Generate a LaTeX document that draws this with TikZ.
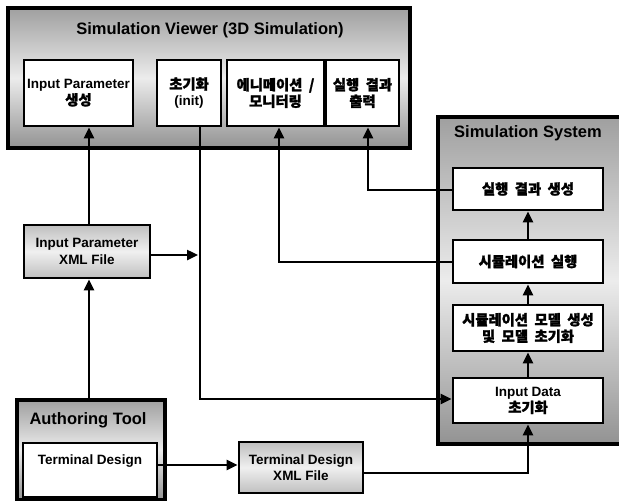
\documentclass[tikz,border=0pt]{standalone}
\usepackage{fontspec}
\setmainfont{Liberation Sans}
\newfontfamily\kr{Noto Sans CJK KR}[WordSpace=2,FakeBold=1.6]
\usetikzlibrary{arrows.meta}
\newcommand{\ko}[1]{{\kr\fontsize{14.3}{16.5}\selectfont #1}}
\begin{document}
\begin{tikzpicture}[x=1pt,y=-1pt,
  txt/.style={font=\fontsize{13.5}{16.5}\selectfont\bfseries,align=center},
  ttl/.style={font=\fontsize{16.5}{18}\selectfont\bfseries},
  inbox/.style={draw=black,line width=2.8pt,fill=white,minimum width=#1,inner sep=0pt,txt},
  outbox/.style={draw=black,line width=3.2pt,inner sep=0pt},
  shadeA/.style={top color=gray!75,bottom color=gray!85,middle color=gray!15},
  shadeB/.style={top color=gray!50,bottom color=gray!50,middle color=gray!12},
  arr/.style={line width=2.4pt,-{Triangle[length=11pt,width=10pt]}}
]
\useasboundingbox (0,0) rectangle (619,501);
% outer containers
\node[outbox,shadeA,minimum width=402pt,minimum height=140pt] (viewer) at (209,78) {};
\node[ttl] (vtitle) at (210,30) {Simulation Viewer (3D Simulation)};
\node[outbox,shadeA,minimum width=190pt,minimum height=327pt] (sys) at (533,280.5) {};
\node[ttl] (stitle) at (528,133) {Simulation System};
\node[outbox,shadeA,minimum width=148pt,minimum height=100pt] (auth) at (91,450) {};
\node[ttl] (atitle) at (88,420) {Authoring Tool};
% viewer inner boxes
\node[inbox=109pt,minimum height=66pt] (ipg) at (78.5,93) {Input Parameter\\\ko{생성}};
\node[inbox=64pt,minimum height=66pt] (init) at (189,93) {\ko{초기화}\\(init)};
\node[inbox=97pt,minimum height=66pt] (anim) at (275.5,93) {\ko{에니메이션 /}\\\ko{모니터링}};
\node[inbox=73pt,minimum height=66pt] (out) at (362.5,93) {\ko{실행 결과}\\\ko{출력}};
% system inner boxes
\node[inbox=150pt,minimum height=42pt] (res) at (528,189) {\ko{실행 결과 생성}};
\node[inbox=150pt,minimum height=43pt] (run) at (528,261.5) {\ko{시뮬레이션 실행}};
\node[inbox=150pt,minimum height=46pt] (model) at (528,328) {\ko{시뮬레이션 모델 생성}\\\ko{및 모델 초기화}};
\node[inbox=150pt,minimum height=45pt] (idata) at (528,400.5) {Input Data\\\ko{초기화}};
% files
\node[outbox,shadeB,line width=2.8pt,minimum width=126pt,minimum height=53pt,txt] (ipx) at (87,251.5) {Input Parameter\\XML File};
\node[outbox,shadeB,line width=2.8pt,minimum width=124pt,minimum height=51pt,txt] (tdx) at (301,467.5) {Terminal Design\\XML File};
% authoring inner
\node[draw=black,line width=2.8pt,fill=white,minimum width=134pt,minimum height=54pt,inner sep=0pt] (td) at (90,470) {};
\node[txt] (tdt) at (90,461) {Terminal Design};
% coordinates
\coordinate (j1) at (200,399);
\coordinate (j2) at (279,262);
\coordinate (j3) at (368,190);
\coordinate (j4) at (528,473);
% connectors
\draw[arr] (auth.north -| 89,0) -- (ipx.south -| 89,0);
\draw[arr] (ipx.north -| 89,0) -- (ipg.south -| 89,0);
\draw[arr] (ipx.east |- 0,255) -- (198,255);
\draw[arr] (init.south -| j1) -- (j1) -- (idata.west |- j1);
\draw[arr] (run.west |- j2) -- (j2) -- (anim.south -| j2);
\draw[arr] (res.west |- j3) -- (j3) -- (out.south -| j3);
\draw[arr] (td.east |- 0,465) -- (tdx.west |- 0,465);
\draw[arr] (tdx.east |- j4) -- (j4) -- (idata.south);
\draw[arr] (idata.north) -- (model.south);
\draw[arr] (model.north) -- (run.south);
\draw[arr] (run.north) -- (res.south);
\end{tikzpicture}
\end{document}
